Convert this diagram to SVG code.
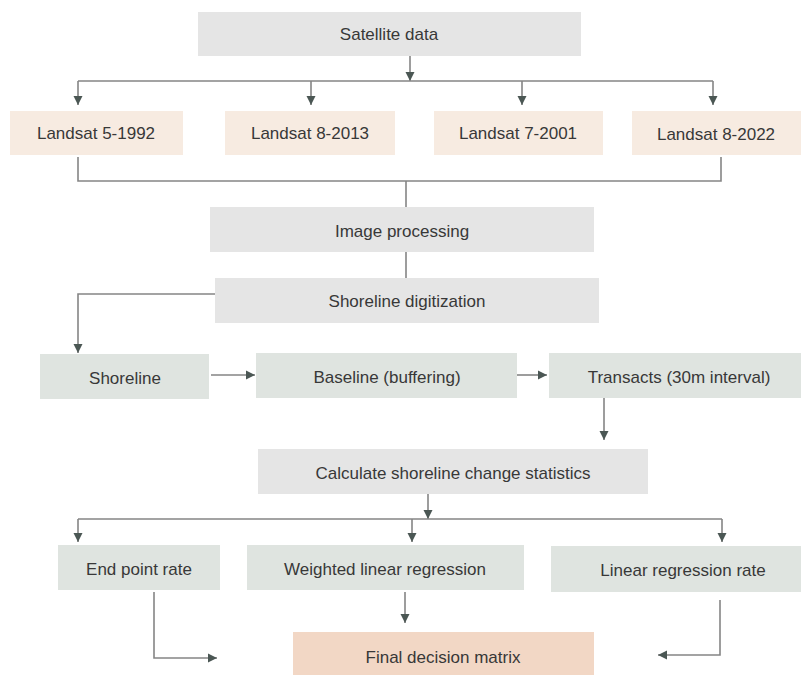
<svg xmlns="http://www.w3.org/2000/svg" width="801" height="675" viewBox="0 0 801 675">
<style>
  .gray { fill: #e5e5e5; }
  .peach { fill: #f7ebe1; }
  .green { fill: #dfe4e0; }
  .final { fill: #f2d7c5; }
  text { font-family: "Liberation Sans", Arial, sans-serif; font-size: 17px; fill: #383838; text-anchor: middle; dominant-baseline: central; }
  .conn path { fill: none; stroke: #858585; stroke-width: 1.6; }
</style>
<defs>
  <marker id="arr" markerUnits="userSpaceOnUse" markerWidth="10" markerHeight="10" refX="9" refY="5" orient="auto" viewBox="0 0 10 10">
    <path d="M0,0.5 L9,5 L0,9.5 z" fill="#4b5754"/>
  </marker>
</defs>
<rect width="801" height="675" fill="#ffffff"/>

<g id="satellite"><rect class="gray" x="198" y="12" width="383" height="44"/><text x="389" y="34">Satellite data</text></g>
<g id="l1992"><rect class="peach" x="10" y="111" width="173" height="44"/><text x="96" y="133">Landsat 5-1992</text></g>
<g id="l2013"><rect class="peach" x="225" y="111" width="170" height="44"/><text x="310" y="133">Landsat 8-2013</text></g>
<g id="l2001"><rect class="peach" x="434" y="111" width="169" height="44"/><text x="518" y="133">Landsat 7-2001</text></g>
<g id="l2022"><rect class="peach" x="632" y="111" width="169" height="44"/><text x="716" y="134">Landsat 8-2022</text></g>
<g id="imageproc"><rect class="gray" x="210" y="207" width="384" height="45"/><text x="402" y="231">Image processing</text></g>
<g id="digit"><rect class="gray" x="215" y="278" width="384" height="45"/><text x="407" y="301">Shoreline digitization</text></g>
<g id="shoreline"><rect class="green" x="40" y="354" width="169" height="45"/><text x="125" y="378">Shoreline</text></g>
<g id="baseline"><rect class="green" x="256" y="353" width="261" height="45"/><text x="387" y="377">Baseline (buffering)</text></g>
<g id="transacts"><rect class="green" x="549" y="353" width="252" height="45"/><text x="679" y="377">Transacts (30m interval)</text></g>
<g id="calc"><rect class="gray" x="258" y="449" width="390" height="45"/><text x="453" y="473">Calculate shoreline change statistics</text></g>
<g id="epr"><rect class="green" x="58" y="545" width="162" height="45"/><text x="139" y="569">End point rate</text></g>
<g id="wlr"><rect class="green" x="247" y="545" width="277" height="45"/><text x="385" y="569">Weighted linear regression</text></g>
<g id="lrr"><rect class="green" x="551" y="546" width="250" height="46"/><text x="683" y="570">Linear regression rate</text></g>
<g id="final"><rect class="final" x="293" y="632" width="301" height="43"/><text x="443" y="657">Final decision matrix</text></g>

<g class="conn" id="connectors">
  <path d="M410,56 V81" marker-end="url(#arr)"/>
  <path d="M78,81 H713"/>
  <path d="M78,81 V105" marker-end="url(#arr)"/>
  <path d="M311,81 V105" marker-end="url(#arr)"/>
  <path d="M522,81 V105" marker-end="url(#arr)"/>
  <path d="M713,81 V105" marker-end="url(#arr)"/>
  <path d="M78,157 V181 H721 V157"/>
  <path d="M406,181 V207"/>
  <path d="M406,252 V278"/>
  <path d="M215,294 H78 V353" marker-end="url(#arr)"/>
  <path d="M211,375 H255" marker-end="url(#arr)"/>
  <path d="M517,375 H547" marker-end="url(#arr)"/>
  <path d="M604,398 V440" marker-end="url(#arr)"/>
  <path d="M428,494 V519" marker-end="url(#arr)"/>
  <path d="M78,519 H722"/>
  <path d="M78,519 V542" marker-end="url(#arr)"/>
  <path d="M412,519 V542" marker-end="url(#arr)"/>
  <path d="M722,519 V542" marker-end="url(#arr)"/>
  <path d="M405,592 V623" marker-end="url(#arr)"/>
  <path d="M154,592 V658 H217" marker-end="url(#arr)"/>
  <path d="M720,600 V655 H658" marker-end="url(#arr)"/>
</g>
</svg>
